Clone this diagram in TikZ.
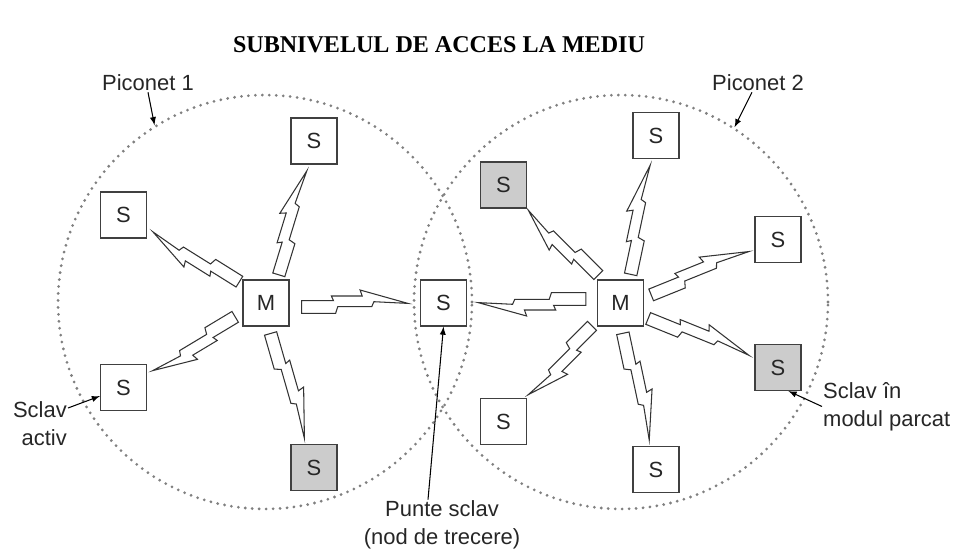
\documentclass[tikz,border=0pt]{standalone}
\usepackage{fontspec}
\setmainfont{Liberation Sans}
\newfontfamily\titlefont{Liberation Serif}
\usetikzlibrary{calc}
% zigzag radio link from master #2 to slave #3, #1 = gap in px
\newcommand{\radiolink}[3][6]{%
	\path let \p1=($(#3)-(#2)$) in \pgfextra{\pgfmathtruncatemacro{\ba}{round(atan2(\y1,\x1))}\xdef\linkang{\ba}};
	\pgfmathtruncatemacro{\linkback}{\linkang+180}%
	\path let \p1=($(#3.\linkback)-(#2.\linkang)$) in \pgfextra{\pgfmathsetmacro{\bl}{veclen(\x1,\y1)-2*#1*0.569}\xdef\linklen{\bl}};
	\begin{scope}[shift={(#2.\linkang)},rotate=\linkang,xshift=#1*0.02cm,x=\linklen pt,y=0.02cm]
		\draw[zap] (0,-10.3)--(0.32,-10.3)--(0.34,-3.7)--(0.66,-3.7)--(0.68,1.3)--(1,-0.4)--(0.55,13)--(0.57,7)--(0.28,7)--(0.30,2.3)--(0,2.3)--cycle;
	\end{scope}}
\begin{document}
\begin{tikzpicture}[>=latex,x=0.02cm,y=-0.02cm,
	sbox/.style={draw=black!75,line width=0.7pt,minimum size=0.92cm,inner sep=0pt,text=black!85,font=\fontsize{12.5}{15}\selectfont},
	parked/.style={sbox,fill=black!20},
	zap/.style={draw=black!80,fill=white,line width=0.6pt},
	piconet/.style={circle,minimum size=8.28cm,inner sep=0pt,draw=black!50,line width=1.75pt,line cap=round,dash pattern=on 0pt off 3.97pt},
	lbl/.style={inner sep=0.5pt,text=black!85,font=\fontsize{12.5}{15.9}\selectfont}]
	\useasboundingbox (0,0) rectangle (956,550);
	\node[font=\titlefont\fontsize{13.7}{16}\selectfont\bfseries] (title) at (439,45) {SUBNIVELUL DE ACCES LA MEDIU};
	\node[piconet] (pn1) at (265,302) {};
	\node[piconet] (pn2) at (621,302) {};
	%piconet 1
	\node[sbox] (m1) at (266,303) {M};
	\node[sbox] (sa) at (123.5,215) {S};
	\node[sbox] (sb) at (314,141) {S};
	\node[sbox] (sc) at (123.5,387.5) {S};
	\node[parked] (sd) at (314,467.5) {S};
	\node[sbox] (br) at (443.5,303) {S};
	%piconet 2
	\node[sbox] (m2) at (620.5,303) {M};
	\node[parked] (se) at (503.5,185) {S};
	\node[sbox] (sf) at (656,135.5) {S};
	\node[sbox] (sg) at (778,239.5) {S};
	\node[parked] (sh) at (778,367.5) {S};
	\node[sbox] (si) at (503.5,421.5) {S};
	\node[sbox] (sj) at (656,469.5) {S};
	\radiolink{m1}{sa}
	\radiolink{m1}{sb}
	\radiolink{m1}{sc}
	\radiolink{m1}{sd}
	\radiolink[12]{m1}{br}
	\radiolink[11]{m2}{br}
	\radiolink[2]{m2}{se}
	\radiolink{m2}{sf}
	\radiolink{m2}{sg}
	\radiolink{m2}{sh}
	\radiolink[3]{m2}{si}
	\radiolink{m2}{sj}
	\node[lbl] (p1) at (148,83) {Piconet 1};
	\node[lbl] (p2) at (758,83) {Piconet 2};
	\node[lbl,align=right,anchor=east] (sactiv) at (68,424) {Sclav\\activ};
	\node[lbl,align=left,anchor=west] (sparcat) at (822,406.5) {Sclav în\\modul parcat};
	\node[lbl,align=center] (punte) at (442,525) {Punte sclav\\(nod de trecere)};
	\draw[->,line width=0.6pt] (p1.south)--(pn1.122);
	\draw[->,line width=0.6pt] ([xshift=-0.12cm]p2.south)--(pn2.57);
	\draw[->,line width=0.6pt] ([yshift=0.32cm]sactiv.east)--(sc.-160);
	\draw[->,line width=0.6pt] (sparcat.west)--(sh.-66);
	\draw[->,line width=0.6pt] ([xshift=-0.28cm]punte.north)--(br.south);
\end{tikzpicture}
\end{document}
